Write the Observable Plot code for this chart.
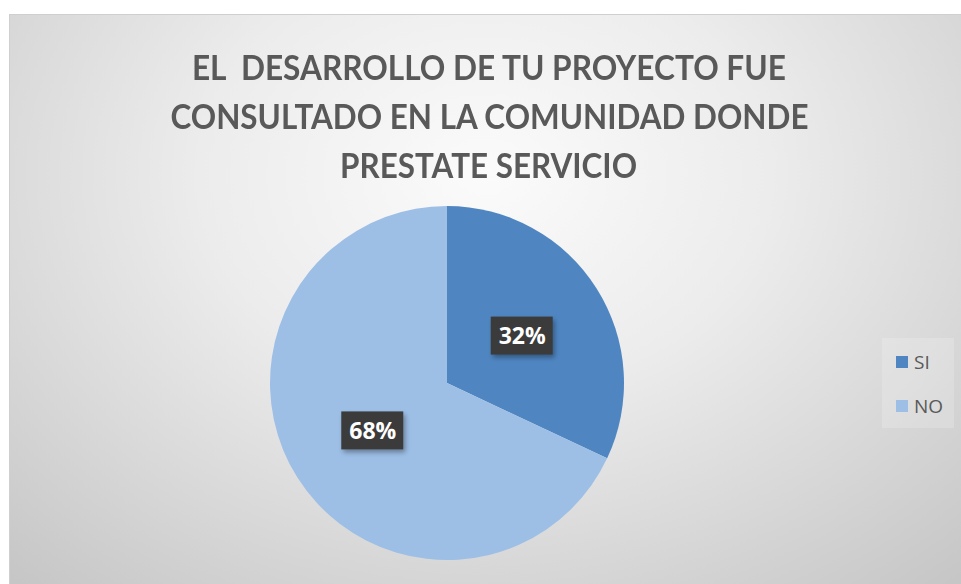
<!DOCTYPE html>
<html>
<head>
<meta charset="utf-8">
<script src="https://cdn.jsdelivr.net/npm/d3@7"></script>
<script src="https://cdn.jsdelivr.net/npm/@observablehq/plot@0.6"></script>
<style>
  html, body { margin: 0; padding: 0; background: #ffffff; }
  #page { position: relative; width: 961px; height: 584px; overflow: hidden; background: #ffffff; }
  #frame {
    position: absolute; left: 9px; top: 14px; width: 952px; height: 570px;
    border-top: 1px solid #cfcfcf; border-left: 1px solid #cfcfcf; box-sizing: border-box;
    background: radial-gradient(ellipse 75% 95% at 50% 28%, #fbfbfb 0%, #ececec 40%, #d9d9d9 70%, #c6c6c6 100%);
  }
  #title {
    position: absolute; left: 0; width: 978px; top: 42px; text-align: center;
    font-family: Lato, "Open Sans", sans-serif; font-weight: bold;
    font-size: 35px; line-height: 49px; color: #595959;
  }
  #title .ln { height: 49px; }
  #title .ln span { display: inline-block; white-space: pre; transform-origin: 50% 50%; }
  #plot { position: absolute; left: 0; top: 0; }
  #legendbox { position: absolute; left: 882px; top: 338px; width: 72px; height: 90px; background: rgba(255,255,255,0.18); }
  .leg { position: absolute; left: 896px; font-family: "Open Sans", sans-serif; font-size: 19px; color: #595959; display: flex; align-items: center; }
  .leg span.sw { display: inline-block; width: 12px; height: 12px; margin-right: 6px; }
</style>
</head>
<body>
<div id="page">
  <div id="frame"></div>
  <div id="title"></div>
  <div id="plot"></div>
  <div id="legendbox"></div>
  <div id="legend"></div>
</div>
<script>
// ---- data ----
const titleLines = ["EL  DESARROLLO DE TU PROYECTO FUE", "CONSULTADO EN LA COMUNIDAD DONDE", "PRESTATE SERVICIO"];
const categories = ["SI", "NO"];
const values = [32, 68];
const labels = ["32%", "68%"];
const colors = ["#4f86c2", "#9dbfe6"];

// ---- title (each line fitted to the reference line width) ----
const titleWidths = [594, 638, 297];
const titleEl = document.getElementById("title");
titleEl.innerHTML = titleLines.map(t => `<div class="ln"><span>${t}</span></div>`).join("");
titleEl.querySelectorAll(".ln span").forEach((s, i) => {
  const w = s.getBoundingClientRect().width;
  if (w > 0) s.style.transform = `scaleX(${titleWidths[i] / w})`;
});

// ---- legend ----
const legendRows = [362, 406];
document.getElementById("legend").innerHTML = categories.map((c, i) =>
  `<div class="leg" style="top:${legendRows[i] - 13}px;height:26px"><span class="sw" style="background:${colors[i]}"></span>${c}</div>`).join("");

// ---- pie geometry from data ----
const table = categories.map((c, i) => ({category: c, value: values[i], label: labels[i], color: colors[i]}));
const arcs = d3.pie().sort(null).value(d => d.value)(table);
const unitArc = d3.arc().innerRadius(0).outerRadius(1);
arcs.forEach(a => { const [cx, cy] = unitArc.centroid(a); a.cx = cx; a.cy = cy; });

const CX = 447, CY = 383, R = 177;

function pieMark(index, scales) {
  const g = d3.create("svg:g");
  const r = scales.x(1) - scales.x(0);
  const ox = scales.x(0), oy = scales.y(0);
  const arcGen = d3.arc().innerRadius(0).outerRadius(r);
  g.selectAll("path").data(arcs).join("path")
    .attr("transform", `translate(${ox},${oy})`)
    .attr("d", arcGen)
    .attr("fill", d => d.data.color)
    .attr("stroke", "none");
  const defs = g.append("defs");
  const f = defs.append("filter").attr("id", "sh").attr("x", "-20%").attr("y", "-20%").attr("width", "150%").attr("height", "160%");
  f.append("feDropShadow").attr("dx", 2).attr("dy", 3).attr("stdDeviation", 2.5).attr("flood-color", "#000").attr("flood-opacity", 0.35);
  g.selectAll("rect").data(arcs).join("rect")
    .attr("x", d => scales.x(d.cx) - 31)
    .attr("y", d => scales.y(d.cy) - 19)
    .attr("width", 62).attr("height", 38)
    .attr("fill", "#3b3b3b")
    .attr("filter", "url(#sh)");
  return g.node();
}

const chart = Plot.plot({
  width: 961,
  height: 584,
  margin: 0,
  style: {background: "transparent", overflow: "visible"},
  x: {type: "linear", domain: [-1, 1], range: [CX - R, CX + R], axis: null},
  y: {type: "linear", domain: [-1, 1], range: [CY - R, CY + R], axis: null},
  marks: [
    pieMark,
    Plot.text(arcs, {
      x: d => d.cx, y: d => d.cy, text: d => d.data.label,
      fill: "#ffffff", fontWeight: "bold", fontSize: 23, fontFamily: "Open Sans",
      dy: 1
    })
  ]
});
document.getElementById("plot").appendChild(chart);
</script>
</body>
</html>
